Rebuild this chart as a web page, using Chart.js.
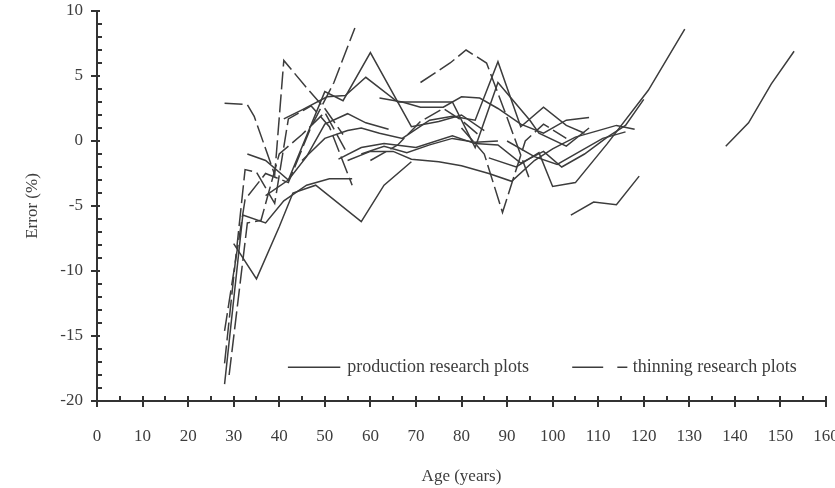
<!DOCTYPE html>
<html>
<head>
<meta charset="utf-8">
<script src="https://cdn.jsdelivr.net/npm/chart.js@4"></script>
<style>
  html, body { margin: 0; padding: 0; background: #ffffff; }
  #wrap { width: 835px; height: 488px; }
</style>
</head>
<body>
<div id="wrap"><canvas id="c" width="835" height="488"></canvas></div>
<script>
// ---- axis ticks ----
const xTicks = [0, 10, 20, 30, 40, 50, 60, 70, 80, 90, 100, 110, 120, 130, 140, 150, 160];
const yTicks = [-20, -15, -10, -5, 0, 5, 10];

// ---- production research plots (solid) : ages and errors (%) ----
const prodAges = [
  [28, 32, 37, 41, 46, 51, 56],
  [30, 35, 40, 43, 48, 58, 63, 69],
  [33, 37, 42, 50, 54, 60, 69, 75, 80, 85],
  [41, 45, 50.5, 54.5, 59, 66, 74, 78, 80, 83, 88, 95, 97, 103, 108],
  [45, 50, 55, 58, 62, 67, 73, 78, 83, 88, 93, 98, 103, 107],
  [53, 58, 63, 70, 78, 83, 88, 93, 98, 102, 107, 112, 116, 120],
  [55, 60, 65, 69, 75, 80, 86, 91, 96, 100, 105, 110, 114, 118],
  [86, 92, 97, 100, 105, 112, 121, 129],
  [138, 143, 148, 153],
  [104, 109, 114, 119],
  [62, 67, 71, 76, 80, 84, 88, 93, 98, 103, 108],
  [37, 42, 46, 50, 55, 59, 64],
  [58, 63, 68, 73, 78, 83, 88],
  [90, 96, 101, 106, 111, 116]
];
const prodErrors = [
  [-18.7, -5.7, -6.3, -4.6, -3.4, -2.9, -2.9],
  [-7.9, -10.6, -6.6, -4.0, -3.4, -6.2, -3.4, -1.6],
  [-1.0, -1.5, -3.0, 3.8, 3.1, 6.8, 1.1, 1.5, 2.0, 0.8],
  [1.7, 2.4, 3.4, 3.5, 4.9, 3.0, 3.0, 3.0, 1.6, -0.5, 4.5, 1.6, 0.6, -0.4, 1.0],
  [-1.5, 0.2, 0.8, 1.0, 0.6, 0.2, 1.6, 1.9, 1.6, 6.1, 1.1, 2.6, 1.2, 0.6],
  [-1.4, -0.5, -0.2, -0.5, 0.4, -0.2, -0.3, -1.7, -0.8, -2.0, -1.0, 0.3, 1.2, 3.2],
  [-1.5, -0.8, -0.8, -1.4, -1.6, -1.9, -2.5, -3.1, -1.5, -0.6, 0.3, 0.8, 1.2, 0.9],
  [-1.3, -2.0, -0.9, -3.5, -3.2, -0.2, 3.9, 8.6],
  [-0.4, 1.4, 4.4, 6.9],
  [-5.7, -4.7, -4.9, -2.7],
  [3.3, 3.0, 2.6, 2.6, 3.4, 3.3, 2.5, 1.3, 0.6, 1.6, 1.8],
  [-4.2, -3.0, -1.2, 1.3, 2.1, 1.4, 0.9],
  [-1.0, -0.4, -0.9, -0.3, 0.2, -0.1, 0.0],
  [0.0, -1.2, -1.8, -0.8, 0.2, 0.7]
];

// ---- thinning research plots (dashed) ----
const thinAges = [
  [28, 33, 34.5, 39, 41, 45.5, 50, 54],
  [28, 32.5, 37, 42, 47, 52, 56.6],
  [28, 32.5, 35, 39, 42, 47, 51, 56],
  [29, 33, 36, 40, 45, 50, 55],
  [71, 77.5, 81, 85.5, 90, 95],
  [80, 85, 89, 94, 98, 103],
  [60, 66, 71, 76, 80, 84]
];
const thinErrors = [
  [2.9, 2.8, 1.9, -2.6, 6.2, 4.3, 2.5, 0.5],
  [-14.6, -4.5, -2.5, -3.2, 1.1, 4.5, 8.7],
  [-17.1, -2.2, -2.4, -4.8, 1.7, 2.7, 1.1, -3.4],
  [-18.0, -6.3, -6.1, -1.0, 0.5, 2.2, -1.0],
  [4.5, 6.0, 7.0, 6.0, 1.8, -3.0],
  [1.0, -1.0, -5.5, 0.0, 1.3, 0.2],
  [-1.5, -0.3, 1.5, 2.5, 1.6, 0.4]
];

const legendLabels = ['production research plots', 'thinning research plots'];
const xTitle = 'Age (years)';
const yTitle = 'Error (%)';

const LINE = '#3c3c3c';
const AXIS = '#333333';
const TEXT = '#3d3d3d';
const FONT = '"Liberation Serif", "DejaVu Serif", serif';

function toPts(ages, errs) { return ages.map((a, i) => ({ x: a, y: errs[i] })); }

const datasets = [];
prodAges.forEach((ages, i) => datasets.push({
  label: legendLabels[0], data: toPts(ages, prodErrors[i]),
  borderColor: LINE, borderWidth: 1.5, pointRadius: 0, fill: false, tension: 0
}));
thinAges.forEach((ages, i) => datasets.push({
  label: legendLabels[1], data: toPts(ages, thinErrors[i]),
  borderColor: LINE, borderWidth: 1.5, borderDash: [18, 5], pointRadius: 0, fill: false, tension: 0
}));

const axisPlugin = {
  id: 'axisPlugin',
  afterDraw(chart) {
    const ctx = chart.ctx;
    const xs = chart.scales.x, ys = chart.scales.y;
    const x0 = xs.getPixelForValue(0), x1 = xs.getPixelForValue(160);
    const yb = ys.getPixelForValue(-20), yt = ys.getPixelForValue(10);
    ctx.save();
    ctx.strokeStyle = AXIS;
    ctx.lineWidth = 2;
    ctx.lineCap = 'butt';
    ctx.beginPath();
    ctx.moveTo(x0, yt); ctx.lineTo(x0, yb);
    ctx.moveTo(x0, yb); ctx.lineTo(x1 + 1, yb);
    ctx.stroke();
    // x ticks
    ctx.beginPath();
    for (let v = 0; v <= 160; v += 5) {
      const px = Math.round(xs.getPixelForValue(v));
      if (v % 10 === 0) { ctx.moveTo(px, yb - 5); ctx.lineTo(px, yb + 6); }
      else { ctx.moveTo(px, yb - 5); ctx.lineTo(px, yb); }
    }
    // y ticks
    for (let v = -20; v <= 10; v += 1) {
      const py = Math.round(ys.getPixelForValue(v));
      if (v % 5 === 0) { ctx.moveTo(x0 - 6, py); ctx.lineTo(x0 + 3, py); }
      else { ctx.moveTo(x0, py); ctx.lineTo(x0 + 5, py); }
    }
    ctx.stroke();
    // legend
    const ly = ys.getPixelForValue(-17.4);
    ctx.lineWidth = 1.5;
    ctx.strokeStyle = LINE;
    ctx.beginPath();
    ctx.moveTo(xs.getPixelForValue(41.9), ly); ctx.lineTo(xs.getPixelForValue(53.4), ly);
    ctx.moveTo(xs.getPixelForValue(104.3), ly); ctx.lineTo(xs.getPixelForValue(111.1), ly);
    ctx.moveTo(xs.getPixelForValue(114.2), ly); ctx.lineTo(xs.getPixelForValue(116.4), ly);
    ctx.stroke();
    ctx.fillStyle = TEXT;
    ctx.font = '18px ' + FONT;
    ctx.textBaseline = 'middle';
    ctx.textAlign = 'left';
    ctx.fillText(legendLabels[0], xs.getPixelForValue(54.9), ly);
    ctx.fillText(legendLabels[1], xs.getPixelForValue(117.6), ly);
    ctx.restore();
  }
};

new Chart(document.getElementById('c'), {
  type: 'line',
  data: { datasets },
  options: {
    responsive: false,
    animation: false,
    events: [],
    layout: { padding: { left: 0, right: 9, top: 11, bottom: 0 } },
    plugins: { legend: { display: false }, tooltip: { enabled: false } },
    scales: {
      x: {
        type: 'linear', min: 0, max: 160,
        afterBuildTicks: s => { s.ticks = xTicks.map(v => ({ value: v })); },
        afterFit: s => { s.height = 87; s.paddingRight = 0; s.paddingLeft = 0; },
        grid: { display: false, drawTicks: false },
        border: { display: false },
        ticks: { color: TEXT, font: { family: FONT, size: 17 }, padding: 25, maxRotation: 0, autoSkip: false },
        title: { display: true, text: xTitle, color: TEXT, font: { family: FONT, size: 17 }, padding: { top: 0, bottom: 1 } }
      },
      y: {
        type: 'linear', min: -20, max: 10,
        afterBuildTicks: s => { s.ticks = yTicks.map(v => ({ value: v })); },
        afterFit: s => { s.width = 97; s.paddingTop = 0; s.paddingBottom = 0; },
        grid: { display: false, drawTicks: false },
        border: { display: false },
        ticks: { color: TEXT, font: { family: FONT, size: 17 }, padding: 14 },
        title: { display: true, text: yTitle, color: TEXT, font: { family: FONT, size: 17 }, padding: { top: 22, bottom: 0 } }
      }
    }
  },
  plugins: [axisPlugin]
});
</script>
</body>
</html>
